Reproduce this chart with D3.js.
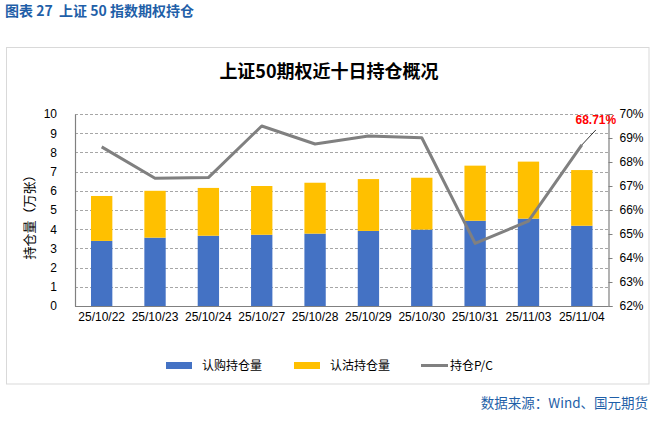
<!DOCTYPE html>
<html><head><meta charset="utf-8">
<script src="https://cdn.jsdelivr.net/npm/d3@7"></script>
<style>
body{margin:0;background:#fff;}
svg{display:block;font-family:"Liberation Sans","Noto Sans CJK SC",Arial,sans-serif;}
</style></head>
<body>
<script>
const dates = ["25/10/22","25/10/23","25/10/24","25/10/27","25/10/28","25/10/29","25/10/30","25/10/31","25/11/03","25/11/04"];
const callOI = [3.39,3.56,3.66,3.71,3.77,3.91,3.98,4.44,4.55,4.18];
const putOI  = [2.34,2.44,2.49,2.54,2.65,2.70,2.70,2.87,2.97,2.90];
const pcRatio = [68.63,67.32,67.35,69.50,68.75,69.08,69.01,64.61,65.54,68.71];
const leftTicks = [0,1,2,3,4,5,6,7,8,9,10];
const rightTicks = [62,63,64,65,66,67,68,69,70];
const seriesNames = ["认购持仓量","认沽持仓量","持仓P/C"];

const W=671,H=425;
const svg=d3.select("body").append("svg").attr("width",W).attr("height",H);
const blue="#4472C4", orange="#FFC000", gray="#808080";

// header
svg.append("text").attr("x",5).attr("y",16).attr("fill","#1F5FA8").attr("font-size",14).attr("font-weight","bold")
  .attr("font-family","'Noto Sans CJK SC',sans-serif").attr("xml:space","preserve").style("white-space","pre").text("图表 27  上证 50 指数期权持仓");
// frame
svg.append("rect").attr("x",6.5).attr("y",47.5).attr("width",642.5).attr("height",336.5).attr("fill","none").attr("stroke","#d9d9d9").attr("stroke-width",1);
// title
svg.append("text").attr("x",329).attr("y",78).attr("text-anchor","middle").attr("font-size",18).attr("font-weight","bold")
  .attr("font-family","'Noto Sans CJK SC',sans-serif").attr("fill","#000").text("上证50期权近十日持仓概况");

const x0=75, x1=608.5, yB=306, yT=114;
const x=d3.scaleBand().domain(dates).range([x0,x1]).paddingInner(0.6).paddingOuter(0.3);
const y=d3.scaleLinear().domain([0,10]).range([yB,yT]);
const y2=d3.scaleLinear().domain([62,70]).range([yB,yT]);

// gridlines
svg.append("g").selectAll("line").data(leftTicks.filter(d=>d>0)).join("line")
  .attr("x1",x0).attr("x2",x1).attr("y1",d=>Math.round(y(d))+0.5).attr("y2",d=>Math.round(y(d))+0.5)
  .attr("stroke","#a6a6a6").attr("stroke-dasharray","3,2").attr("stroke-width",1);

// bars
const stackData=dates.map((d,i)=>({date:d,call:callOI[i],put:putOI[i]}));
const series=d3.stack().keys(["call","put"])(stackData);
const colors=[blue,orange];
svg.append("g").selectAll("g").data(series).join("g").attr("fill",(d,i)=>colors[i])
  .selectAll("rect").data(d=>d).join("rect")
  .attr("x",d=>x(d.data.date)).attr("width",x.bandwidth())
  .attr("y",d=>y(d[1])).attr("height",d=>y(d[0])-y(d[1]));

// axes
const axL=svg.append("g").attr("transform",`translate(${x0},0)`).call(d3.axisLeft(y).tickValues(leftTicks).tickSize(0).tickPadding(18));
const axR=svg.append("g").attr("transform",`translate(${x1},0)`).call(d3.axisRight(y2).tickValues(rightTicks).tickSize(4).tickPadding(7).tickFormat(d=>d+"%"));
const axB=svg.append("g").attr("transform",`translate(0,${yB})`).call(d3.axisBottom(x).tickSize(0).tickPadding(6));
[axL,axR,axB].forEach(a=>{
  a.selectAll("path").attr("stroke","#808080").attr("stroke-width",1.2);
  a.selectAll("line").attr("stroke","#808080");
  a.selectAll("text").attr("font-size",12).attr("fill","#000").attr("font-family","'Liberation Sans',Arial,sans-serif");
});
axB.select("path.domain").attr("d",`M${x0},0.5H${x1}`);

// line
const cx=d=>x(d)+x.bandwidth()/2;
const line=d3.line().x((d,i)=>cx(dates[i])).y(d=>y2(d));
svg.append("path").datum(pcRatio).attr("d",line).attr("fill","none").attr("stroke",gray).attr("stroke-width",3).attr("stroke-linejoin","round");

// label leader and label
const lastX=cx(dates[9]), lastY=y2(pcRatio[9]);
svg.append("line").attr("x1",lastX).attr("y1",lastY).attr("x2",lastX+14).attr("y2",lastY-15).attr("stroke","#000").attr("stroke-width",0.8);
svg.append("text").attr("x",lastX+14).attr("y",lastY-21).attr("text-anchor","middle").attr("fill","#FF0000")
  .attr("font-size",12).attr("font-weight","bold").text(pcRatio[9].toFixed(2)+"%");

// y axis title
svg.append("text").attr("transform","translate(34,214) rotate(-90)").attr("text-anchor","middle").attr("font-size",13)
  .attr("font-family","'Noto Sans CJK SC',sans-serif").text("持仓量（万张）");

// legend
const lg=svg.append("g").attr("font-family","'Noto Sans CJK SC',sans-serif").attr("font-size",12);
const legX=[166,294,421];
lg.append("rect").attr("x",legX[0]).attr("y",362).attr("width",26).attr("height",7).attr("fill",blue);
lg.append("text").attr("x",legX[0]+36).attr("y",370).text(seriesNames[0]);
lg.append("rect").attr("x",legX[1]).attr("y",362).attr("width",26).attr("height",7).attr("fill",orange);
lg.append("text").attr("x",legX[1]+36).attr("y",370).text(seriesNames[1]);
lg.append("line").attr("x1",legX[2]).attr("x2",legX[2]+27).attr("y1",365.5).attr("y2",365.5).attr("stroke",gray).attr("stroke-width",3);
lg.append("text").attr("x",legX[2]+29).attr("y",370).text(seriesNames[2]);

// source
svg.append("text").attr("x",648).attr("y",408).attr("text-anchor","end").attr("fill","#1F5FA8").attr("font-size",13.5)
  .attr("font-family","'Noto Sans CJK SC',sans-serif").text("数据来源：Wind、国元期货");
</script>
</body></html>
